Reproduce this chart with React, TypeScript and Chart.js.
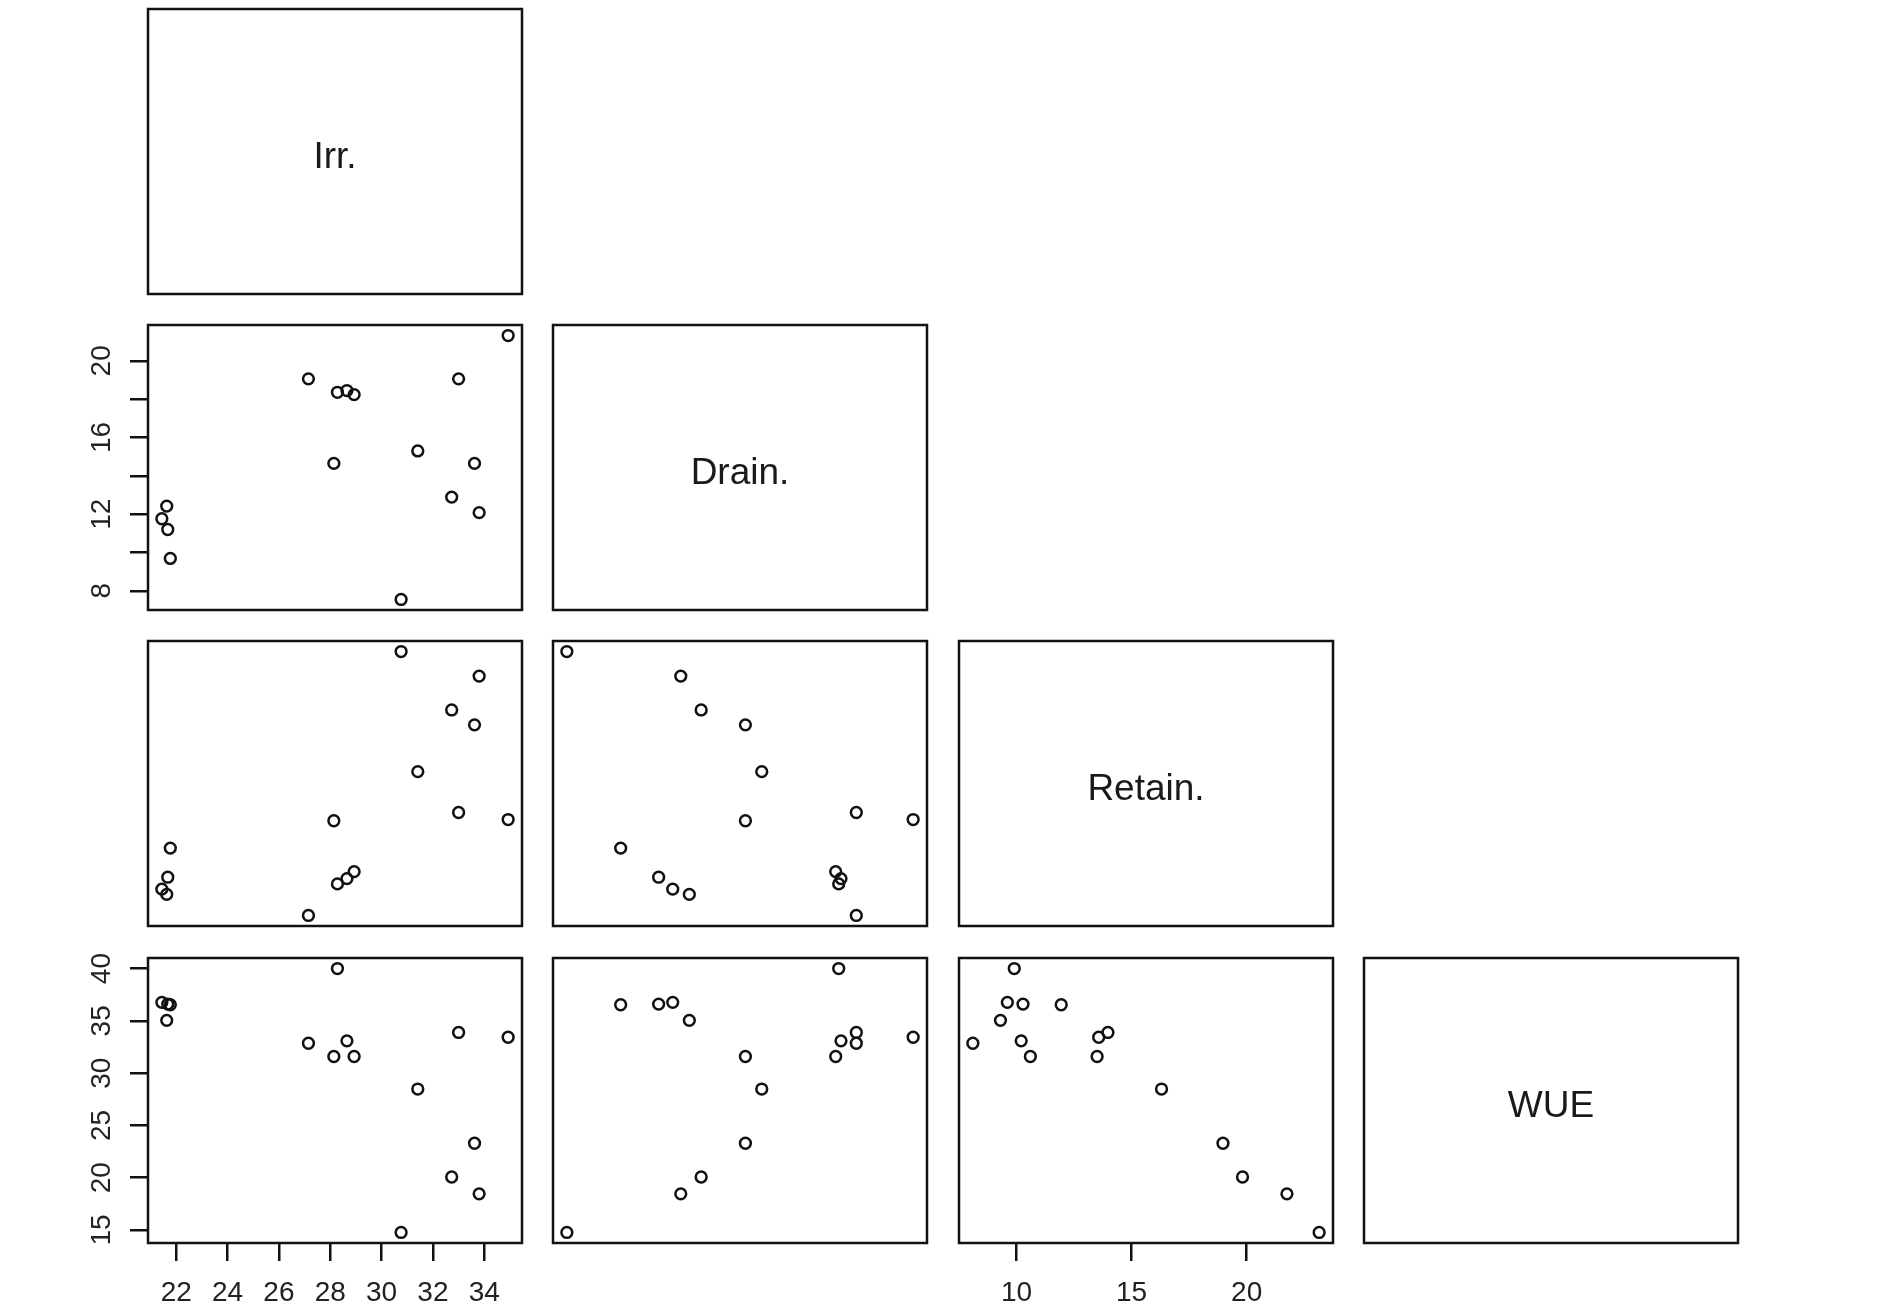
import React, { useEffect, useRef } from 'react';
import { Chart, registerables } from 'chart.js';

Chart.register(...registerables);

// ---- data (16 observations) ----
const variables = ['Irr.', 'Drain.', 'Retain.', 'WUE'];
const irr = [27.15, 28.14, 28.28, 28.65, 28.93, 30.76, 31.41, 32.73, 33.0, 33.62, 33.8, 34.93, 21.77, 21.44, 21.63, 21.67];
const drain = [19.06, 14.65, 18.36, 18.45, 18.24, 7.55, 15.3, 12.89, 19.06, 14.65, 12.08, 21.32, 9.69, 11.76, 12.42, 11.2];
const retain = [8.1, 13.5, 9.9, 10.2, 10.6, 23.15, 16.3, 19.82, 13.97, 18.97, 21.75, 13.57, 11.94, 9.6, 9.3, 10.28];
const wue = [32.86, 31.59, 40.0, 33.09, 31.59, 14.77, 28.48, 20.07, 33.89, 23.3, 18.46, 33.43, 36.54, 36.77, 35.05, 36.6];

// ---- tick values / labels ----
const irrTicks = [22, 24, 26, 28, 30, 32, 34];
const irrTickLabels = ['22', '24', '26', '28', '30', '32', '34'];
const drainTicks = [8, 10, 12, 14, 16, 18, 20];
const drainTickLabels = ['8', '', '12', '', '16', '', '20'];
const retainTicks = [10, 15, 20];
const retainTickLabels = ['10', '15', '20'];
const wueTicks = [15, 20, 25, 30, 35, 40];
const wueTickLabels = ['15', '20', '25', '30', '35', '40'];

const series = [irr, drain, retain, wue];
const tickSets = [irrTicks, drainTicks, retainTicks, wueTicks];
const tickLabelSets = [irrTickLabels, drainTickLabels, retainTickLabels, wueTickLabels];

// ---- layout ----
const COL_LEFT = [148, 553, 959, 1364];
const ROW_TOP = [9, 325, 641, 958];
const BOX_W = 374;
const BOX_H = 285;
const M = 76;
const FONT = '"Liberation Sans", Arial, Helvetica, sans-serif';

function extent(v: number[]): [number, number] {
  const lo = Math.min(...v);
  const hi = Math.max(...v);
  const r = hi - lo;
  return [lo - 0.04 * r, hi + 0.04 * r];
}

const boxPlugin = {
  id: 'rbox',
  afterDraw(chart: any) {
    const { ctx, chartArea } = chart;
    ctx.save();
    ctx.strokeStyle = '#111';
    ctx.lineWidth = 2.5;
    ctx.strokeRect(chartArea.left, chartArea.top, chartArea.right - chartArea.left, chartArea.bottom - chartArea.top);
    ctx.restore();
  },
};

function makeScale(idx: number, pos: 'bottom' | 'left', show: boolean) {
  const [min, max] = extent(series[idx]);
  const ticks = tickSets[idx];
  const labels = tickLabelSets[idx];
  const isLeft = pos === 'left';
  return {
    type: 'linear',
    position: pos,
    display: show,
    min,
    max,
    afterBuildTicks: (s: any) => {
      s.ticks = ticks.map((v) => ({ value: v }));
    },
    afterFit: (s: any) => {
      if (!show) return;
      if (isLeft) s.width = M;
      else s.height = M;
    },
    grid: {
      display: true,
      drawOnChartArea: false,
      drawTicks: true,
      tickLength: 18,
      lineWidth: 2.5,
      color: '#111',
    },
    border: { display: false },
    ticks: {
      autoSkip: false,
      color: '#222',
      padding: isLeft ? 12 : 15,
      font: { family: FONT, size: 28 },
      minRotation: isLeft ? 90 : 0,
      maxRotation: isLeft ? 90 : 0,
      crossAlign: isLeft ? 'center' : 'near',
      callback: (_v: any, i: number) => labels[i],
    },
  };
}

function Panel({ row, col }: { row: number; col: number }) {
  const ref = useRef<HTMLCanvasElement | null>(null);
  const diag = row === col;
  const showX = !diag && row === 3 && (col === 0 || col === 2);
  const showY = !diag && col === 0 && (row === 1 || row === 3);
  const w = BOX_W + 2 * M;
  const h = BOX_H + 2 * M;

  useEffect(() => {
    if (!ref.current) return;
    const labelPlugin = {
      id: 'diaglabel',
      afterDraw(chart: any) {
        if (!diag) return;
        const { ctx, chartArea } = chart;
        ctx.save();
        ctx.fillStyle = '#1a1a1a';
        ctx.font = `37px ${FONT}`;
        ctx.textAlign = 'center';
        ctx.textBaseline = 'middle';
        ctx.fillText(variables[row], (chartArea.left + chartArea.right) / 2, (chartArea.top + chartArea.bottom) / 2 + 6);
        ctx.restore();
      },
    };
    const data = diag
      ? { datasets: [] }
      : {
          datasets: [
            {
              data: series[col].map((x, i) => ({ x, y: series[row][i] })),
              pointStyle: 'circle',
              pointRadius: 5.4,
              pointBorderWidth: 2.5,
              pointBorderColor: '#111',
              pointBackgroundColor: 'rgba(0,0,0,0)',
              showLine: false,
            },
          ],
        };
    const chart = new Chart(ref.current, {
      type: 'scatter',
      data: data as any,
      options: {
        responsive: false,
        animation: false,
        events: [],
        layout: {
          padding: {
            left: showY ? 0 : M,
            right: M,
            top: M,
            bottom: showX ? 0 : M,
          },
        },
        plugins: { legend: { display: false }, tooltip: { enabled: false } },
        scales: {
          x: makeScale(col, 'bottom', showX) as any,
          y: makeScale(row, 'left', showY) as any,
        },
      },
      plugins: [boxPlugin, labelPlugin],
    });
    return () => chart.destroy();
  }, [row, col]);

  return (
    <canvas
      ref={ref}
      width={w}
      height={h}
      style={{ position: 'absolute', left: COL_LEFT[col] - M, top: ROW_TOP[row] - M, width: w, height: h }}
    />
  );
}

export default function App() {
  const cells: { r: number; c: number }[] = [];
  for (let r = 0; r < 4; r++) for (let c = 0; c <= r; c++) cells.push({ r, c });
  return (
    <div style={{ position: 'absolute', left: 0, top: 0, width: 1885, height: 1309, background: '#fff', overflow: 'hidden' }}>
      {cells.map(({ r, c }) => (
        <Panel key={`${r}-${c}`} row={r} col={c} />
      ))}
    </div>
  );
}
